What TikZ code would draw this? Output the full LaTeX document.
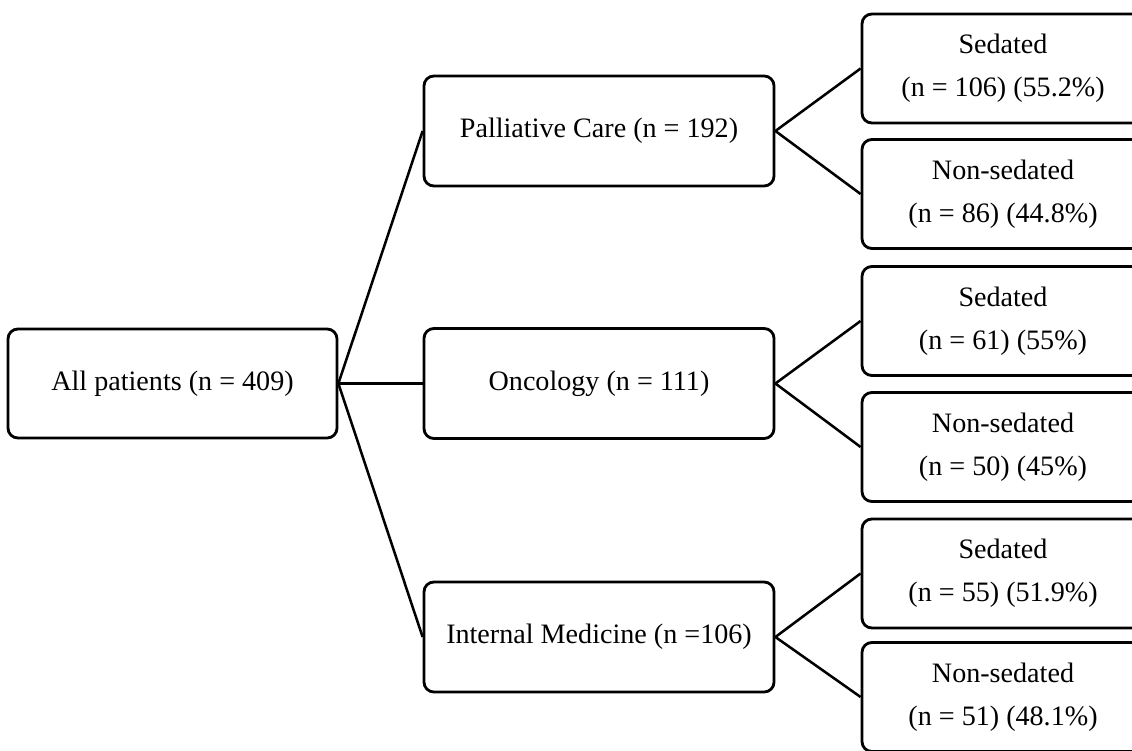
\documentclass[tikz,border=0pt]{standalone}
\usepackage{fontspec}
\setmainfont{Liberation Serif}
\begin{document}
\begin{tikzpicture}[every edge/.style = {draw, line width=1.8pt},
 box/.style args = {#1/#2}{rectangle, draw, rounded corners=7pt, line width=2pt, minimum width=#1, minimum height=#2, inner sep=0pt, align=center, font=\fontsize{20}{30.6}\selectfont}]

\clip (0,0) rectangle (28.3,-18.775);

\node(all) [box=8.225cm/2.725cm] at (4.3125,-9.5875) {All patients (n = 409)};

\node(pc) [box=8.75cm/2.75cm] at (14.975,-3.275) {Palliative Care (n = 192)};
\node(onc) [box=8.75cm/2.75cm] at (14.975,-9.5875) {Oncology (n = 111)};
\node(im) [box=8.75cm/2.75cm] at (14.975,-15.925) {Internal Medicine (n =106)};

\node(pcs) [box=7.05cm/2.725cm] at (25.075,-1.7125) {Sedated\\(n = 106) (55.2\%)};
\node(pcn) [box=7.05cm/2.725cm] at (25.075,-4.85) {Non-sedated\\(n = 86) (44.8\%)};

\node(oncs) [box=7.05cm/2.725cm] at (25.075,-8.025) {Sedated\\(n = 61) (55\%)};
\node(oncn) [box=7.05cm/2.725cm] at (25.075,-11.175) {Non-sedated\\(n = 50) (45\%)};

\node(ims) [box=7.05cm/2.725cm] at (25.075,-14.3375) {Sedated\\(n = 55) (51.9\%)};
\node(imn) [box=7.05cm/2.725cm] at (25.075,-17.425) {Non-sedated\\(n = 51) (48.1\%)};
%
\path   (all.east) edge (pc.west)
        (all.east) edge (onc.west)
        (all.east) edge (im.west)
        (pc.east) edge (pcs.west)
        (pc.east) edge (pcn.west)
        (onc.east) edge (oncs.west)
        (onc.east) edge (oncn.west)
        (im.east) edge (ims.west)
        (im.east) edge (imn.west);

\end{tikzpicture}
\end{document}
